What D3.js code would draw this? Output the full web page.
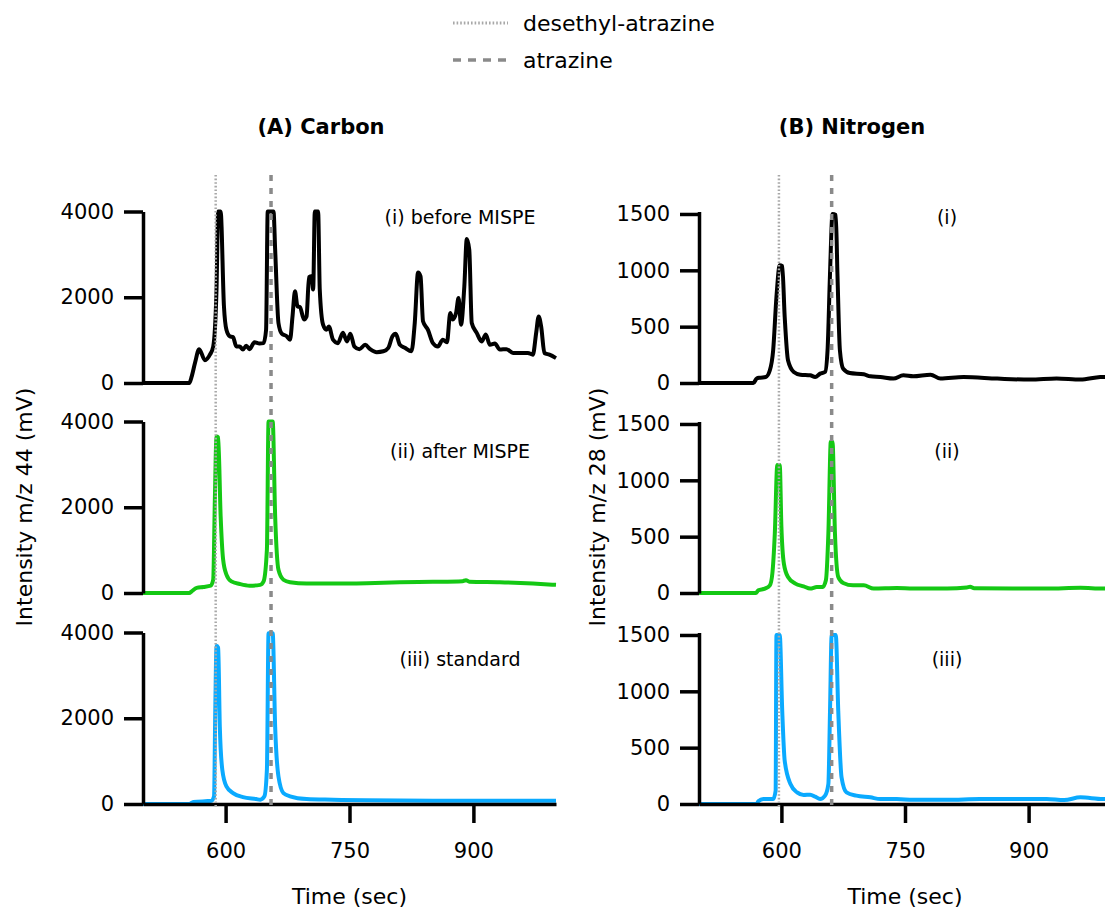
<!DOCTYPE html>
<html>
<head>
<meta charset="utf-8">
<script src="https://cdn.jsdelivr.net/npm/d3@7"></script>
<style>
  body { margin: 0; background: #fff; }
  text { font-family: "DejaVu Sans", Verdana, sans-serif; fill: #000; }
</style>
</head>
<body>
<div id="chart"></div>
<script>
// readings from the chromatograms, [time (sec), intensity (mV)]
const carbonBefore = [[500,0],[556,0],[559,155],[563,470],[568,790],[575,530],[581,660],[585,850],[589,2180],[591,4000],[594,4000],[598,1790],[601,1240],[605,1090],[609,1070],[613,850],[617,850],[621,780],[625,870],[629,790],[635,950],[641,920],[646,930],[649,1240],[651,4000],[658,4000],[660,3110],[664,1400],[668,1150],[674,1090],[678,1010],[681,1550],[684,2140],[687,1790],[690,1770],[695,1480],[698,1550],[701,2470],[704,2490],[706,2180],[708,4000],[712,4000],[714,2180],[718,1360],[722,1240],[725,1320],[730,1010],[736,930],[742,1170],[747,970],[751,1150],[756,850],[762,790],[769,890],[775,790],[783,720],[791,740],[797,820],[802,1090],[806,1150],[811,890],[817,820],[825,740],[829,1400],[833,2580],[836,2490],[839,1440],[845,1240],[851,930],[857,850],[863,1010],[868,950],[872,1630],[875,1480],[879,1630],[882,1980],[885,1360],[889,2250],[892,3360],[895,3110],[898,1400],[904,1170],[910,970],[915,1130],[920,890],[926,920],[932,780],[940,790],[948,700],[956,700],[966,700],[972,660],[976,1170],[979,1550],[982,1320],[986,700],[992,660],[1000,580]];
const carbonAfter = [[500,0],[556,0],[559,40],[565,120],[573,140],[582,170],[585,310],[587,2180],[589,3650],[591,3630],[594,1790],[597,780],[601,430],[607,270],[617,210],[629,170],[642,190],[646,270],[650,1010],[652,4000],[657,4000],[660,1790],[664,540],[670,310],[678,250],[698,220],[730,220],[771,230],[811,250],[851,260],[887,275],[891,300],[895,265],[932,250],[972,220],[1000,190]];
const carbonStandard = [[500,0],[556,0],[561,45],[583,75],[586,180],[587.5,2190],[589,3690],[591,3650],[593,1800],[596,800],[601,410],[609,255],[621,160],[637,115],[642,100],[647,180],[650,800],[652,3980],[657,3980],[660,1800],[664,640],[670,255],[678,180],[698,115],[730,100],[770,85],[851,75],[1000,75]];

const nitrogenBefore = [[500,0],[566,0],[570,40],[574,47],[581,53],[586,113],[590,290],[594,765],[598,1046],[601,1037],[604,587],[608,202],[615,98],[623,74],[635,68],[641,53],[647,83],[653,98],[656,290],[659,972],[662,1500],[666,1491],[668,972],[671,290],[675,127],[683,89],[700,77],[708,59],[720,53],[736,39],[748,68],[760,59],[781,74],[793,39],[821,53],[862,39],[902,30],[934,39],[963,30],[987,53],[1000,55]];
const nitrogenAfter = [[500,0],[569,0],[572,24],[580,39],[586,68],[589,172],[592,528],[595,1135],[598,1135],[600,587],[603,261],[608,142],[617,83],[627,59],[635,39],[643,53],[650,53],[654,113],[657,528],[660,1343],[662,1343],[665,528],[669,142],[675,89],[687,68],[700,68],[712,39],[740,44],[760,39],[801,39],[825,48],[829,55],[834,42],[882,39],[922,39],[963,47],[990,39],[1000,42]];
const nitrogenStandard = [[500,0],[570,0],[572,24],[578,44],[590,44],[593,118],[594,1500],[598,1500],[601,827],[604,384],[611,177],[619,103],[627,80],[635,83],[641,65],[647,44],[653,74],[657,177],[659,827],[661,1500],[666,1500],[669,827],[673,236],[679,103],[691,74],[708,59],[720,44],[740,44],[760,38],[801,38],[841,44],[882,44],[922,44],[943,35],[963,59],[990,44],[1000,44]];

const carbonRefs = [588, 655];     // desethyl-atrazine, atrazine
const nitrogenRefs = [597, 661];
const refNames = ["desethyl-atrazine", "atrazine"];

const carbonLabels = ["(i) before MISPE", "(ii) after MISPE", "(iii) standard"];
const nitrogenLabels = ["(i)", "(ii)", "(iii)"];
const carbonTicks = [0, 2000, 4000];
const nitrogenTicks = [0, 500, 1000, 1500];
const timeTicks = [600, 750, 900];
const titles = ["(A) Carbon", "(B) Nitrogen"];

const width = 1105, height = 910;
const rowBottoms = [383, 593, 804];
const rowHeight = 171.5;
const labelY = [224, 458, 666];
const colors = ["#000000", "#14c814", "#0aaaff"];

const svg = d3.select("#chart").append("svg")
    .attr("width", width)
    .attr("height", height);

const columns = [
    { series: [carbonBefore, carbonAfter, carbonStandard], refs: carbonRefs, labels: carbonLabels,
      ticks: carbonTicks, yMax: 4000, xRange: [143, 556], labelX: 460, titleX: 321,
      yTitle: "Intensity m/z 44 (mV)", yTitleX: 32 },
    { series: [nitrogenBefore, nitrogenAfter, nitrogenStandard], refs: nitrogenRefs, labels: nitrogenLabels,
      ticks: nitrogenTicks, yMax: 1522, xRange: [699, 1111], labelX: 947, titleX: 852,
      yTitle: "Intensity m/z 28 (mV)", yTitleX: 605 }
];

columns.forEach((col, ci) => {
    const x = d3.scaleLinear().domain([500, 1000]).range(col.xRange);

    col.series.forEach((data, ri) => {
        const y = d3.scaleLinear().domain([0, col.yMax])
            .range([rowBottoms[ri], rowBottoms[ri] - rowHeight]);

        const line = d3.line()
            .x(d => x(d[0]))
            .y(d => y(d[1]))
            .curve(d3.curveMonotoneX);

        svg.append("path")
            .datum(data)
            .attr("fill", "none")
            .attr("stroke", colors[ri])
            .attr("stroke-width", 4)
            .attr("stroke-linejoin", "round")
            .attr("d", line);

        const yAxis = svg.append("g")
            .attr("transform", `translate(${col.xRange[0]},0)`)
            .call(d3.axisLeft(y).tickValues(col.ticks).tickFormat(d3.format("d"))
                .tickSize(19).tickSizeOuter(0).tickPadding(10));
        yAxis.selectAll("path, line").attr("stroke", "#000").attr("stroke-width", 3.5);
        yAxis.selectAll("text").style("font-size", "21px").attr("font-family", null);

        svg.append("text")
            .attr("x", col.labelX)
            .attr("y", labelY[ri])
            .attr("text-anchor", "middle")
            .style("font-size", "19px")
            .text(col.labels[ri]);

        if (ri === 2) {
            const xAxis = svg.append("g")
                .attr("transform", `translate(0,${rowBottoms[ri]})`)
                .call(d3.axisBottom(x).tickValues(timeTicks).tickFormat(d3.format("d"))
                    .tickSize(19).tickSizeOuter(0).tickPadding(20));
            xAxis.selectAll("path, line").attr("stroke", "#000").attr("stroke-width", 3.5);
            xAxis.selectAll("text").style("font-size", "21px").attr("font-family", null);
        }
    });

    // reference retention times
    svg.selectAll(null)
        .data(col.refs)
        .enter()
        .append("line")
        .attr("x1", d => x(d))
        .attr("x2", d => x(d))
        .attr("y1", 175)
        .attr("y2", rowBottoms[2] + 3)
        .attr("stroke", (d, i) => i === 0 ? "#a8a8a8" : "#8a8a8a")
        .attr("stroke-width", (d, i) => i === 0 ? 2.5 : 3.5)
        .attr("stroke-dasharray", (d, i) => i === 0 ? "1.6,2" : "6,7");

    svg.append("text")
        .attr("x", col.titleX)
        .attr("y", 134)
        .attr("text-anchor", "middle")
        .style("font-size", "21px")
        .style("font-weight", "bold")
        .text(titles[ci]);

    svg.append("text")
        .attr("transform", `translate(${col.yTitleX},507) rotate(-90)`)
        .attr("text-anchor", "middle")
        .style("font-size", "22px")
        .text(col.yTitle);

    svg.append("text")
        .attr("x", (col.xRange[0] + col.xRange[1]) / 2)
        .attr("y", 904)
        .attr("text-anchor", "middle")
        .style("font-size", "22px")
        .text("Time (sec)");
});

// legend
const legend = svg.append("g");
refNames.forEach((name, i) => {
    const ly = i === 0 ? 23 : 60;
    legend.append("line")
        .attr("x1", 453).attr("x2", 508)
        .attr("y1", ly).attr("y2", ly)
        .attr("stroke", i === 0 ? "#a8a8a8" : "#8a8a8a")
        .attr("stroke-width", i === 0 ? 3 : 3.5)
        .attr("stroke-dasharray", i === 0 ? "1.6,2" : "8,7");
    legend.append("text")
        .attr("x", 523)
        .attr("y", ly + 8)
        .style("font-size", "22px")
        .text(name);
});
</script>
</body>
</html>
